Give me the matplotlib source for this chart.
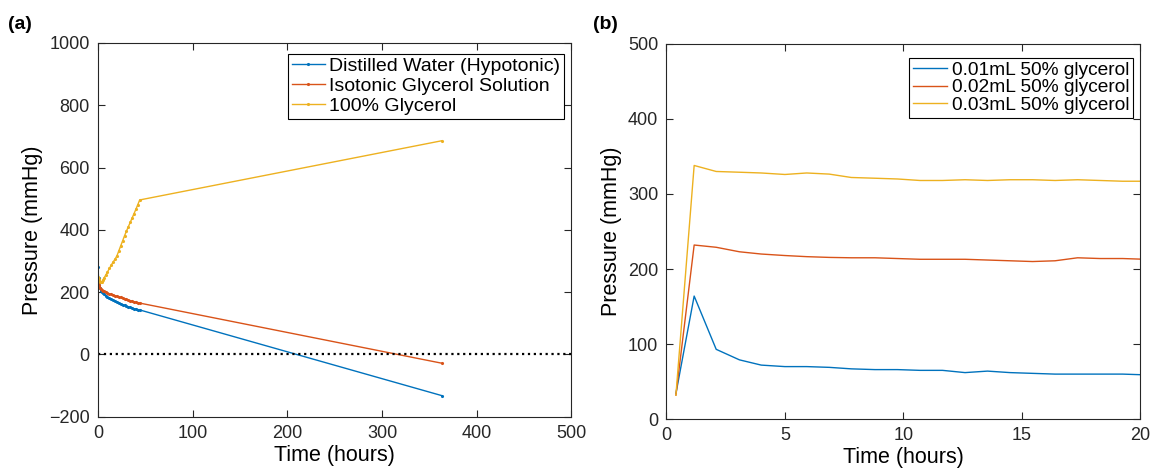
import matplotlib
matplotlib.use("Agg")
import matplotlib.pyplot as plt

plt.rcParams["font.family"] = ["Liberation Sans", "DejaVu Sans"]

# MATLAB default colour order
BLUE = "#0072BD"
ORANGE = "#D95319"
YELLOW = "#EDB120"

# ── (a) long-term pressure ──────────────────────────────────────────────────
t_a = [0, 0.5, 1, 1.5, 2, 3, 4, 5, 6, 8, 10, 12, 14, 16, 18, 20, 22, 24,
       26, 28, 30, 32, 34, 36, 38, 40, 42, 44, 363]
p_water = [282, 245, 228, 218, 212, 205, 200, 196, 193, 188, 184, 180, 177,
           174, 171, 168, 165, 162, 160, 158, 155, 153, 151, 149, 147, 146,
           144, 143, -132]
p_isotonic = [228, 222, 218, 215, 213, 210, 207, 205, 203, 200, 197, 195, 193,
              191, 189, 187, 185, 183, 181, 179, 177, 175, 173, 171, 169, 168,
              166, 165, -28]
p_glycerol = [249, 242, 238, 236, 234, 233, 234, 238, 244, 254, 265, 276, 287,
              297, 306, 317, 333, 349, 365, 381, 396, 410, 424, 438, 452, 466,
              481, 496, 686]
labels_a = ["Distilled Water (Hypotonic)", "Isotonic Glycerol Solution",
            "100% Glycerol"]

# ── (b) first 20 hours, 50% glycerol volumes ───────────────────────────────
t_b = [0.4, 1.17, 2.1, 3.08, 4.0, 5.0, 5.92, 6.87, 7.8, 8.8, 9.75, 10.7,
       11.65, 12.6, 13.55, 14.5, 15.45, 16.4, 17.35, 18.3, 19.25, 20.2]
p_001 = [34, 164, 93, 79, 72, 70, 70, 69, 67, 66, 66, 65, 65, 62, 64, 62,
         61, 60, 60, 60, 60, 59]
p_002 = [32, 232, 229, 223, 220, 218, 216.5, 215.5, 215, 215, 214, 213, 213,
         213, 212, 211, 210, 211, 215, 214, 214, 213]
p_003 = [32, 338, 330, 329, 328, 326, 328, 326.5, 322, 321, 320, 318, 318,
         319, 318, 319, 319, 318, 319, 318, 317, 317]
labels_b = ["0.01mL 50% glycerol", "0.02mL 50% glycerol", "0.03mL 50% glycerol"]

fig = plt.figure(figsize=(11.56, 4.72), dpi=100)
ax_a = fig.add_axes([0.0848, 0.117, 0.4095, 0.792])
ax_b = fig.add_axes([0.5765, 0.112, 0.410, 0.795])


def matlab_style(ax):
    for s in ax.spines.values():
        s.set_color("#262626")
        s.set_linewidth(0.8)
    ax.tick_params(direction="in", length=5, width=0.8, colors="#262626",
                   labelsize=13, top=True, right=True, pad=6)


# panel a
for y, c, lab in zip([p_water, p_isotonic, p_glycerol],
                     [BLUE, ORANGE, YELLOW], labels_a):
    ax_a.plot(t_a, y, ".-", color=c, lw=1.0, ms=2.5, label=lab)
ax_a.plot([0, 500], [0, 0], ":", color="black", lw=1.6)
ax_a.set_xlim(0, 500)
ax_a.set_ylim(-200, 1000)
ax_a.set_xticks(range(0, 501, 100))
ax_a.set_yticks(range(-200, 1001, 200))
ax_a.set_xlabel("Time (hours)", fontsize=15.5, labelpad=2)
ax_a.set_ylabel("Pressure (mmHg)", fontsize=15.5, labelpad=4)
matlab_style(ax_a)
leg = ax_a.legend(loc="upper right", bbox_to_anchor=(0.985, 0.971),
                  borderaxespad=0, fontsize=14, fancybox=False,
                  edgecolor="black", framealpha=1, handlelength=1.7,
                  handletextpad=0.25, labelspacing=0.12, borderpad=0.2)
leg.get_frame().set_linewidth(0.8)

# panel b
for y, c, lab in zip([p_001, p_002, p_003], [BLUE, ORANGE, YELLOW], labels_b):
    ax_b.plot(t_b, y, "-", color=c, lw=1.0, label=lab)
ax_b.set_xlim(0, 20)
ax_b.set_ylim(0, 500)
ax_b.set_xticks(range(0, 21, 5))
ax_b.set_yticks(range(0, 501, 100))
ax_b.set_xlabel("Time (hours)", fontsize=15.5, labelpad=2)
ax_b.set_ylabel("Pressure (mmHg)", fontsize=15.5, labelpad=4)
matlab_style(ax_b)
leg = ax_b.legend(loc="upper right", bbox_to_anchor=(0.985, 0.963),
                  borderaxespad=0, fontsize=13.8, fancybox=False,
                  edgecolor="black", framealpha=1, handlelength=1.8,
                  handletextpad=0.25, labelspacing=0.0, borderpad=0.2)
leg.get_frame().set_linewidth(0.8)

fig.text(0.007, 0.949, "(a)", fontsize=14, fontweight="bold", va="center")
fig.text(0.513, 0.949, "(b)", fontsize=14, fontweight="bold", va="center")

fig.savefig("out.png", dpi=100)
